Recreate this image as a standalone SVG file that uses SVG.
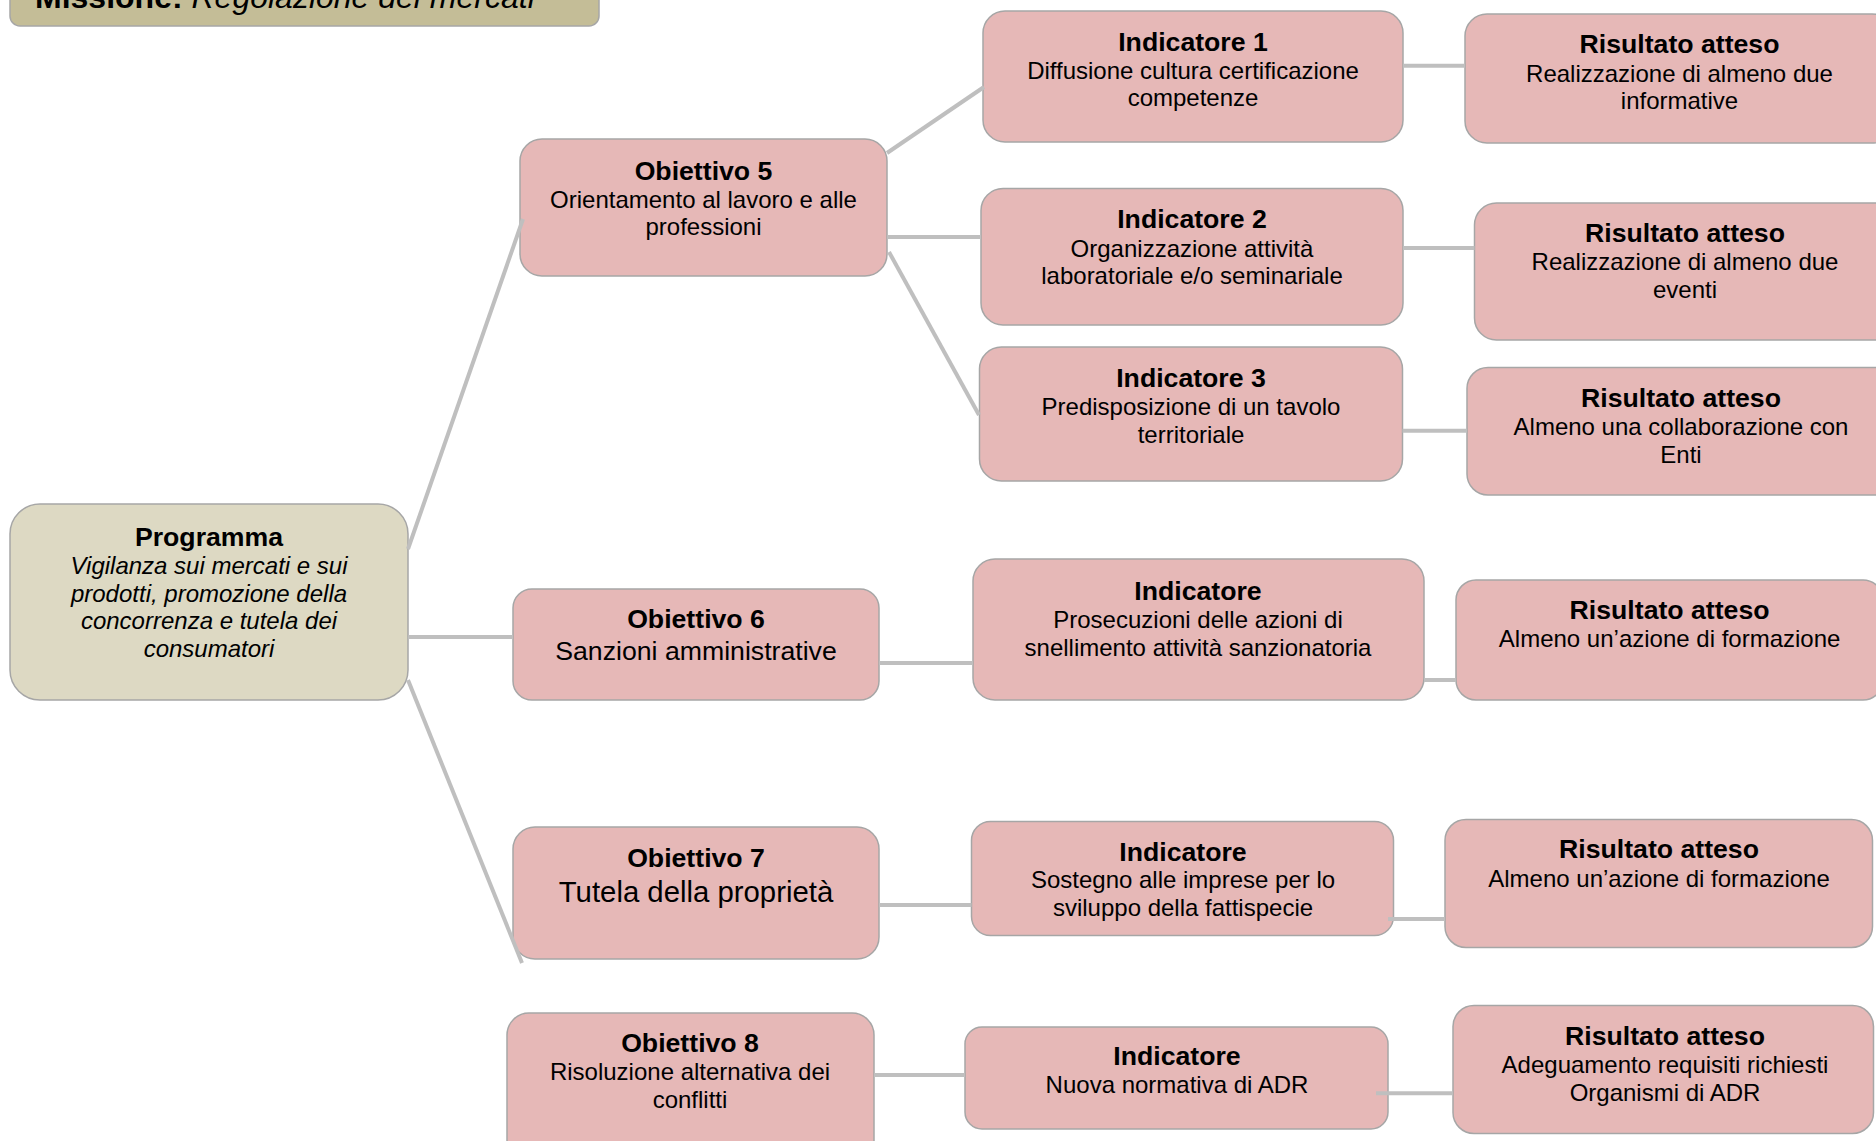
<svg xmlns="http://www.w3.org/2000/svg" width="1876" height="1141" viewBox="0 0 1876 1141">
<style>
  text { font-family: "Liberation Sans", Arial, sans-serif; fill: #000; text-anchor: middle; }
  .box { fill: #E6B8B7; stroke: #A6A6A6; stroke-width: 1.5; }
  .prog { fill: #DDD9C3; stroke: #A6A6A6; stroke-width: 1.5; }
  .mis { fill: #C4BD97; stroke: #A6A6A6; stroke-width: 1.5; }
  .t { font-weight: bold; font-size: 26.67px; }
  .b { font-size: 24px; }
  .i { font-size: 24px; font-style: italic; }
  .b2 { font-size: 26.67px; }
  .b3 { font-size: 29.33px; }
  .conn line { stroke: #BFBFBF; stroke-width: 4; }
</style>
<rect width="1876" height="1141" fill="#FFFFFF"/>

<g id="missione">
  <rect class="mis" x="10" y="-34" width="589" height="60" rx="10"/>
  <text x="35" y="8" style="text-anchor:start;font-size:32px"><tspan font-weight="bold">Missione:</tspan><tspan font-style="italic"> Regolazione dei mercati</tspan></text>
</g>

<g id="programma">
  <rect class="prog" x="10" y="504" width="398" height="196" rx="30"/>
  <text class="t" x="209" y="546">Programma</text>
  <text class="i" x="209" y="574">Vigilanza sui mercati e sui</text>
  <text class="i" x="209" y="602">prodotti, promozione della</text>
  <text class="i" x="209" y="629">concorrenza e tutela dei</text>
  <text class="i" x="209" y="657">consumatori</text>
</g>

<g id="obiettivo5">
  <rect class="box" x="520" y="139" width="367" height="137" rx="22"/>
  <text class="t" x="703.5" y="180">Obiettivo 5</text>
  <text class="b" x="703.5" y="207.5">Orientamento al lavoro e alle</text>
  <text class="b" x="703.5" y="235">professioni</text>
</g>

<g id="obiettivo6">
  <rect class="box" x="513" y="589" width="366" height="111" rx="19"/>
  <text class="t" x="696" y="628">Obiettivo 6</text>
  <text class="b2" x="696" y="660">Sanzioni amministrative</text>
</g>

<g id="obiettivo7">
  <rect class="box" x="513" y="827" width="366" height="132" rx="22"/>
  <text class="t" x="696" y="867">Obiettivo 7</text>
  <text class="b3" x="696" y="901.5">Tutela della proprietà</text>
</g>

<g id="obiettivo8">
  <rect class="box" x="507" y="1013" width="367" height="160" rx="22"/>
  <text class="t" x="690" y="1051.5">Obiettivo 8</text>
  <text class="b" x="690" y="1080">Risoluzione alternativa dei</text>
  <text class="b" x="690" y="1107.5">conflitti</text>
</g>

<g id="indicatore1">
  <rect class="box" x="983" y="11" width="420" height="131" rx="22"/>
  <text class="t" x="1193" y="50.7">Indicatore 1</text>
  <text class="b" x="1193" y="78.5">Diffusione cultura certificazione</text>
  <text class="b" x="1193" y="106">competenze</text>
</g>

<g id="indicatore2">
  <rect class="box" x="981" y="188.5" width="422" height="136.5" rx="22"/>
  <text class="t" x="1192" y="228.3">Indicatore 2</text>
  <text class="b" x="1192" y="256.5">Organizzazione attività</text>
  <text class="b" x="1192" y="284">laboratoriale e/o seminariale</text>
</g>

<g id="indicatore3">
  <rect class="box" x="979.5" y="347" width="423" height="134" rx="22"/>
  <text class="t" x="1191" y="387.3">Indicatore 3</text>
  <text class="b" x="1191" y="415">Predisposizione di un tavolo</text>
  <text class="b" x="1191" y="442.7">territoriale</text>
</g>

<g id="indicatore6">
  <rect class="box" x="973" y="559" width="451" height="141" rx="22"/>
  <text class="t" x="1198" y="600">Indicatore</text>
  <text class="b" x="1198" y="628.3">Prosecuzioni delle azioni di</text>
  <text class="b" x="1198" y="656">snellimento attività sanzionatoria</text>
</g>

<g id="indicatore7">
  <rect class="box" x="971.5" y="821.5" width="422" height="114" rx="19"/>
  <text class="t" x="1183" y="860.7">Indicatore</text>
  <text class="b" x="1183" y="888.3">Sostegno alle imprese per lo</text>
  <text class="b" x="1183" y="916">sviluppo della fattispecie</text>
</g>

<g id="indicatore8">
  <rect class="box" x="965" y="1027" width="423" height="102" rx="17"/>
  <text class="t" x="1177" y="1065">Indicatore</text>
  <text class="b" x="1177" y="1093">Nuova normativa di ADR</text>
</g>

<g id="risultato1">
  <rect class="box" x="1465" y="14" width="429" height="129" rx="22"/>
  <text class="t" x="1679.5" y="53.3">Risultato atteso</text>
  <text class="b" x="1679.5" y="81.5">Realizzazione di almeno due</text>
  <text class="b" x="1679.5" y="109">informative</text>
</g>

<g id="risultato2">
  <rect class="box" x="1474.5" y="203" width="422" height="137" rx="22"/>
  <text class="t" x="1685" y="242">Risultato atteso</text>
  <text class="b" x="1685" y="270">Realizzazione di almeno due</text>
  <text class="b" x="1685" y="297.5">eventi</text>
</g>

<g id="risultato3">
  <rect class="box" x="1467" y="367.5" width="428" height="127.5" rx="21"/>
  <text class="t" x="1681" y="406.7">Risultato atteso</text>
  <text class="b" x="1681" y="435">Almeno una collaborazione con</text>
  <text class="b" x="1681" y="462.7">Enti</text>
</g>

<g id="risultato6">
  <rect class="box" x="1456" y="580" width="427" height="120" rx="20"/>
  <text class="t" x="1669.6" y="619.3">Risultato atteso</text>
  <text class="b" x="1669.6" y="646.7">Almeno un’azione di formazione</text>
</g>

<g id="risultato7">
  <rect class="box" x="1445" y="819.5" width="427.5" height="128" rx="21"/>
  <text class="t" x="1659" y="858.3">Risultato atteso</text>
  <text class="b" x="1659" y="886.7">Almeno un’azione di formazione</text>
</g>

<g id="risultato8">
  <rect class="box" x="1453" y="1005.5" width="420.5" height="128" rx="21"/>
  <text class="t" x="1665" y="1045">Risultato atteso</text>
  <text class="b" x="1665" y="1072.7">Adeguamento requisiti richiesti</text>
  <text class="b" x="1665" y="1100.7">Organismi di ADR</text>
</g>

<g id="connectors" class="conn">
  <line x1="408" y1="549" x2="523" y2="219"/>
  <line x1="408" y1="637" x2="513" y2="637"/>
  <line x1="408" y1="680" x2="522" y2="963"/>
  <line x1="887" y1="153" x2="984" y2="87"/>
  <line x1="887" y1="237" x2="981" y2="237"/>
  <line x1="889" y1="252" x2="979" y2="415"/>
  <line x1="1403" y1="65.7" x2="1465" y2="65.7"/>
  <line x1="1403" y1="248" x2="1474.5" y2="248"/>
  <line x1="1402.5" y1="430.7" x2="1467" y2="430.7"/>
  <line x1="879" y1="663" x2="973" y2="663"/>
  <line x1="1424" y1="680" x2="1456" y2="680"/>
  <line x1="879" y1="905" x2="971.5" y2="905"/>
  <line x1="1388" y1="919" x2="1445" y2="919"/>
  <line x1="874" y1="1075" x2="965" y2="1075"/>
  <line x1="1376" y1="1093.3" x2="1453" y2="1093.3"/>
</g>
</svg>
